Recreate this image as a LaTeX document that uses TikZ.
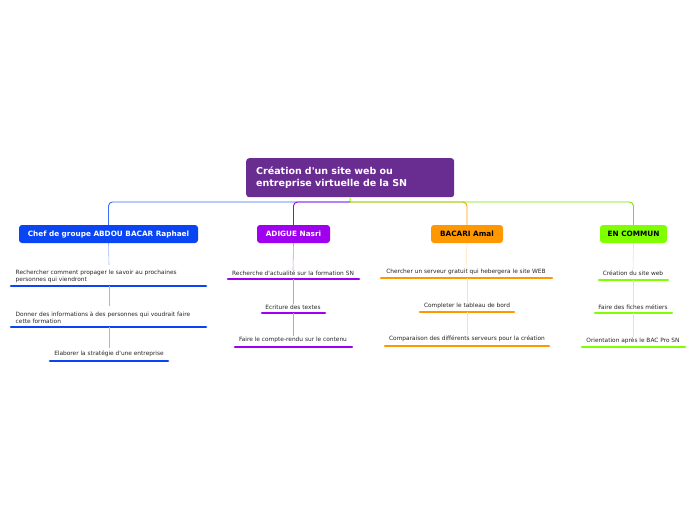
\documentclass[tikz,border=0pt]{standalone}
\usepackage{fontspec}
\newfontfamily\dv{DejaVu Sans}
\begin{document}
\begin{tikzpicture}[x=1pt,y=-1pt,
  rootbox/.style={fill=rootc,rounded corners=3pt,text=white,font=\dv\fontsize{9.5}{12}\selectfont\bfseries,align=left,text width=188pt,inner xsep=10pt,minimum height=39pt,anchor=north west},
  branchbox/.style={rounded corners=3pt,font=\dv\fontsize{7.3}{8}\selectfont\bfseries,minimum height=18pt,inner xsep=4pt,text depth=0pt,anchor=center},
  leaf/.style={font=\dv\fontsize{5.85}{7.6}\selectfont,inner sep=0.5pt,text=black!85,yshift=-1pt},
  uline/.style={line width=2.6pt,line cap=round},
  conn/.style={line width=0.9pt,rounded corners=4pt},
  stem/.style={line width=0.6pt}
]
\definecolor{rootc}{HTML}{692C91}
\definecolor{bluec}{HTML}{0A45F5}
\definecolor{purc}{HTML}{A000F0}
\definecolor{orac}{HTML}{FF9800}
\definecolor{grec}{HTML}{80FF00}
\useasboundingbox (0,0) rectangle (696,520);
% root
\node[rootbox] (root) at (246,158) {Création d'un site web ou\\entreprise virtuelle de la SN};
\coordinate (hub) at (350,202);
% branch boxes
\node[branchbox,fill=bluec,text=white,minimum width=179pt] (b1) at (108.5,234) {Chef de groupe ABDOU BACAR Raphael};
\node[branchbox,fill=purc,text=white,minimum width=73pt] (b2) at (293.5,234) {ADIGUE Nasri};
\node[branchbox,fill=orac,text=black,minimum width=72pt] (b3) at (467,234) {BACARI Amal};
\node[branchbox,fill=grec,text=black,minimum width=67pt] (b4) at (633.5,234) {EN COMMUN};
% root connectors
\draw[conn,grec] (root.south) -- (hub);
\draw[conn,bluec!80] (hub) -| (b1.north);
\draw[conn,purc] (hub) -| (b2.north);
\draw[conn,orac] (hub) -| (b3.north);
\draw[conn,grec!90!black] (hub) -| (b4.north);

% blue branch
\node[leaf,align=left,anchor=north west] (l11) at (15,268) {Rechercher comment propager le savoir au prochaines\\personnes qui viendront};
\coordinate (u11a) at (11,286); \coordinate (u11b) at (206,286); \coordinate (u11) at (109,286);
\node[leaf,align=left,anchor=north west] (l12) at (15,310) {Donner des informations à des personnes qui voudrait faire\\cette formation};
\coordinate (u12a) at (11,327); \coordinate (u12b) at (206,327); \coordinate (u12) at (109,327);
\node[leaf] (l13) at (109,353) {Elaborer la stratégie d'une entreprise};
\coordinate (u13a) at (50,361); \coordinate (u13b) at (168,361);
\draw[uline,bluec] (u11a) -- (u11b);
\draw[uline,bluec] (u12a) -- (u12b);
\draw[uline,bluec] (u13a) -- (u13b);
\draw[stem,bluec!40] (b1.south) -- (109,265);
\draw[stem,bluec!40] (u11) -- (109,306);
\draw[stem,bluec!40] (u12) -- (109,348);

% purple branch
\node[leaf] (l21) at (293,272) {Recherche d'actualité sur la formation SN};
\coordinate (u21a) at (228,279); \coordinate (u21b) at (359,279); \coordinate (u21) at (293,279);
\node[leaf] (l22) at (293,306) {Ecriture des textes};
\coordinate (u22a) at (262,313); \coordinate (u22b) at (325,313); \coordinate (u22) at (293,313);
\node[leaf] (l23) at (293,339) {Faire le compte-rendu sur le contenu};
\coordinate (u23a) at (235,347); \coordinate (u23b) at (352,347);
\draw[uline,purc] (u21a) -- (u21b);
\draw[uline,purc] (u22a) -- (u22b);
\draw[uline,purc] (u23a) -- (u23b);
\draw[stem,purc!45] (b2.south) -- (l21.north);
\draw[stem,purc!45] (u21) -- (l22.north);
\draw[stem,purc!45] (u22) -- (l23.north);

% orange branch
\node[leaf] (l31) at (466,271) {Chercher un serveur gratuit qui hebergera le site WEB};
\coordinate (u31a) at (381,278); \coordinate (u31b) at (552,278); \coordinate (u31) at (467,278);
\node[leaf] (l32) at (467,305) {Completer le tableau de bord};
\coordinate (u32a) at (420,312); \coordinate (u32b) at (514,312); \coordinate (u32) at (467,312);
\node[leaf] (l33) at (467,338) {Comparaison des différents serveurs pour la création};
\coordinate (u33a) at (385,346); \coordinate (u33b) at (549,346);
\draw[uline,orac] (u31a) -- (u31b);
\draw[uline,orac] (u32a) -- (u32b);
\draw[uline,orac] (u33a) -- (u33b);
\draw[stem,orac!30] (b3.south) -- (l31.north);
\draw[stem,orac!30] (u31) -- (l32.north);
\draw[stem,orac!30] (u32) -- (l33.north);

% green branch
\node[leaf] (l41) at (633,272) {Création du site web};
\coordinate (u41a) at (599,280); \coordinate (u41b) at (668,280); \coordinate (u41) at (633,280);
\node[leaf] (l42) at (633,306) {Faire des fiches métiers};
\coordinate (u42a) at (595,313); \coordinate (u42b) at (672,313); \coordinate (u42) at (633,313);
\node[leaf] (l43) at (633,340) {Orientation après le BAC Pro SN};
\coordinate (u43a) at (582,347); \coordinate (u43b) at (685,347);
\draw[uline,grec] (u41a) -- (u41b);
\draw[uline,grec] (u42a) -- (u42b);
\draw[uline,grec] (u43a) -- (u43b);
\draw[stem,black!12] (b4.south) -- (l41.north);
\draw[stem,black!12] (u41) -- (l42.north);
\draw[stem,black!12] (u42) -- (l43.north);
\end{tikzpicture}
\end{document}
